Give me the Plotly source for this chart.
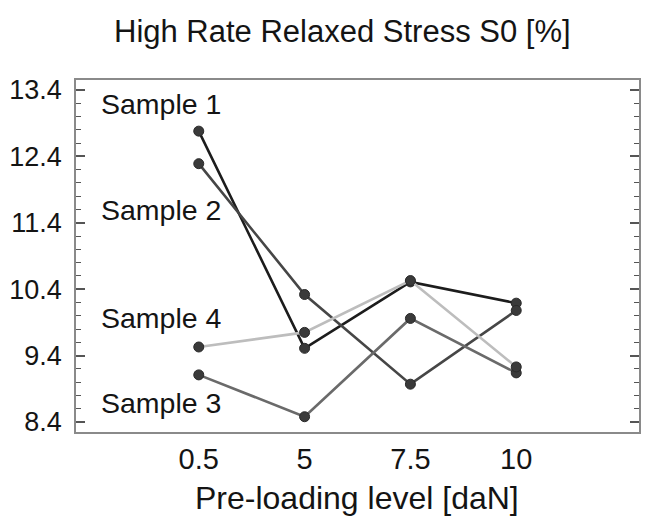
import plotly.graph_objects as go

# ---- data ----
categories = ["0.5", "5", "7.5", "10"]
sample1 = [12.78, 9.51, 10.51, 10.19]
sample2 = [12.29, 10.32, 8.97, 10.08]
sample3 = [9.11, 8.48, 9.96, 9.14]
sample4 = [9.53, 9.75, 10.53, 9.23]
series_names = ["Sample 1", "Sample 2", "Sample 3", "Sample 4"]
y_ticks = [8.4, 9.4, 10.4, 11.4, 12.4, 13.4]

W, H = 645, 526
L, R, T, B = 76, 4, 80, 94
pw, ph = W - L - R, H - T - B

def px_x(x):
    return (x - L) / pw

def px_y(y):
    return (H - B - y) / ph

FONT = "Liberation Sans, Arial, sans-serif"
colors = ["#1c1c1c", "#464646", "#6a6a6a", "#bdbdbd"]
xs = list(range(len(categories)))

fig = go.Figure()
for name, vals, c in zip(series_names, [sample1, sample2, sample3, sample4], colors):
    fig.add_trace(go.Scatter(
        x=xs, y=vals, mode="lines+markers", name=name,
        line=dict(color=c, width=2.6),
        marker=dict(size=10, color="#3a3a3a", line=dict(color="#2a2a2a", width=1)),
        showlegend=False,
    ))

# series labels
label_pos = {"Sample 1": 104, "Sample 2": 210, "Sample 4": 318, "Sample 3": 403}
for name, yp in label_pos.items():
    fig.add_annotation(x=px_x(99), y=px_y(yp), xref="paper", yref="paper",
                       text=name, showarrow=False, xanchor="left", yanchor="middle",
                       font=dict(family=FONT, size=28.5, color="#141414"))

# title
fig.add_annotation(x=px_x(343), y=px_y(31), xref="paper", yref="paper",
                   text="High Rate Relaxed Stress S0 [%]", showarrow=False,
                   xanchor="center", yanchor="middle",
                   font=dict(family=FONT, size=31, color="#141414"))
# x-axis title
fig.add_annotation(x=px_x(358), y=px_y(498), xref="paper", yref="paper",
                   text="Pre-loading level [daN]", showarrow=False,
                   xanchor="center", yanchor="middle",
                   font=dict(family=FONT, size=32, color="#141414"))

fig.update_layout(
    width=W, height=H,
    margin=dict(l=L, r=R, t=T, b=B),
    paper_bgcolor="white", plot_bgcolor="white",
    font=dict(family=FONT, color="#141414"),
    xaxis=dict(
        range=[-1.16, 4.16], tickvals=xs, ticktext=categories,
        showgrid=False, zeroline=False, ticks="",
        showline=True, linecolor="#8a8a8a", linewidth=1.5, mirror=True,
        tickfont=dict(family=FONT, size=29, color="#141414"),
        ticklabelstandoff=0,
    ),
    yaxis=dict(
        range=[8.25, 13.55], tickvals=y_ticks, ticktext=[f"{v:.1f}" for v in y_ticks],
        showgrid=False, zeroline=False,
        ticks="inside", ticklen=9, tickwidth=1.5, tickcolor="#555555",
        showline=True, linecolor="#8a8a8a", linewidth=1.5, mirror="ticks",
        tickfont=dict(family=FONT, size=27, color="#141414"),
        ticklabelstandoff=7,
        minor=dict(dtick=0.2, tick0=8.4, ticks="inside", ticklen=5, tickwidth=1.3,
                   tickcolor="#555555", showgrid=False),
    ),
)

fig.write_html("out.html")
